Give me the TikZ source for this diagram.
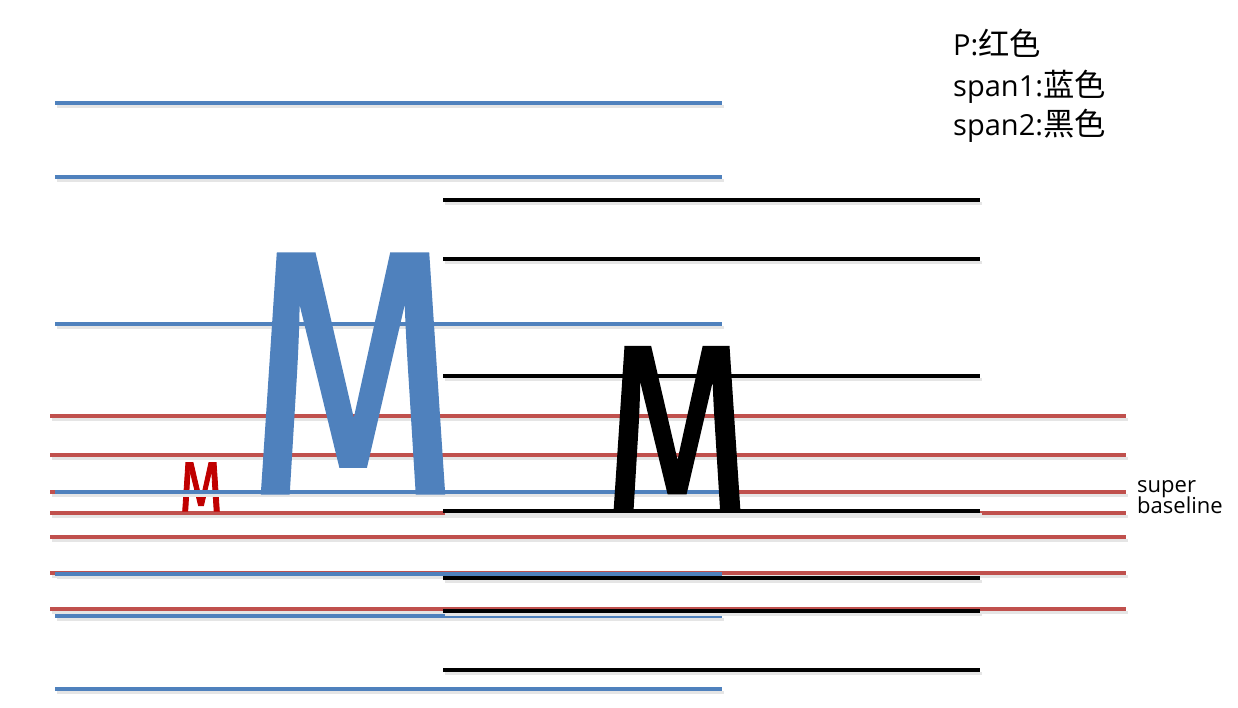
\documentclass[tikz,border=0pt]{standalone}
\usepackage{fontspec}
\setmainfont{Carlito}
\newfontfamily\legendfont{Open Sans}
\newfontfamily\mfont{Fira Sans}[FakeBold=1.5]
\newfontfamily\cjk{Noto Sans CJK SC}[Scale=1.08]
\definecolor{pblue}{HTML}{4F81BD}
\definecolor{pred}{HTML}{C0504D}
\definecolor{mred}{HTML}{C00000}
\tikzset{
  rule/.style={line width=3.5pt, preaction={draw=black!10, line width=3pt, transform canvas={xshift=2pt, yshift=-3pt}}},
  legend/.style={anchor=base west, inner sep=0pt, font=\legendfont\fontsize{29}{29}\selectfont},
  note/.style={anchor=base west, inner sep=0pt, font=\legendfont\fontsize{22}{22}\selectfont},
  bigm/.style={anchor=base, inner sep=0pt, xscale=0.8}
}
\begin{document}
\begin{tikzpicture}[x=1pt, y=-1pt]
\useasboundingbox (0,0) rectangle (1238,707);
% P: red lines
\foreach \ly in {416,455,492,513,537,573,609}
  \draw[rule, pred] (50,\ly) -- (1126,\ly);
\node[bigm, mred, font=\mfont\fontsize{70}{70}\selectfont] (mp) at (201,511) {M};
% span1: blue lines
\foreach \ly in {103,177,324,492,574,616,689}
  \draw[rule, pblue] (55,\ly) -- (722,\ly);
% span2: black lines
\foreach \ly in {200,259,376,511,578,611,670}
  \draw[rule, black] (443,\ly) -- (980,\ly);
\node[bigm, pblue, font=\mfont\fontsize{344}{344}\selectfont] (mspan1) at (353,492) {M};
\node[bigm, black, font=\mfont\fontsize{237}{237}\selectfont] (mspan2) at (677,511) {M};
% legend
\node[legend] (lp) at (953,55) {P:\cjk 红色};
\node[legend] (ls1) at (953,96) {span1:\cjk 蓝色};
\node[legend] (ls2) at (953,135) {span2:\cjk 黑色};
\node[note] (lsuper) at (1137,492) {super};
\node[note] (lbase) at (1137,513) {baseline};
\end{tikzpicture}
\end{document}
